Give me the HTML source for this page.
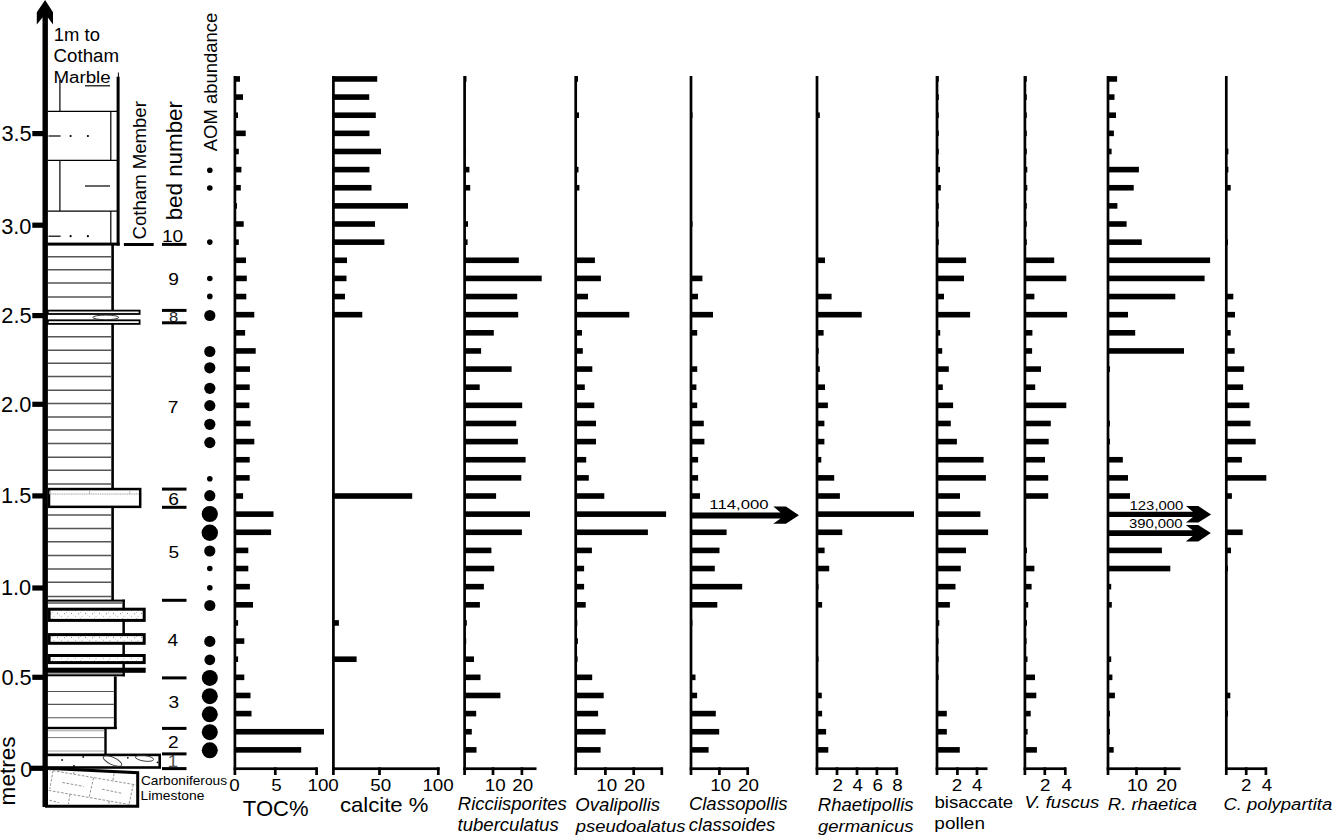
<!DOCTYPE html>
<html><head><meta charset="utf-8"><style>
html,body{margin:0;padding:0;background:#fff;}
body{width:1333px;height:836px;overflow:hidden;}
svg{display:block;font-family:"Liberation Sans", sans-serif;}
</style></head><body>
<svg width="1333" height="836" viewBox="0 0 1333 836">
<defs><pattern id="stip" width="14" height="6" patternUnits="userSpaceOnUse"><rect width="14" height="6" fill="#fff"/><circle cx="1.5" cy="1.2" r="0.5" fill="#555"/><circle cx="5.5" cy="4.3" r="0.45" fill="#666"/><circle cx="8.7" cy="1.8" r="0.5" fill="#555"/><circle cx="12" cy="4.8" r="0.45" fill="#666"/><circle cx="10.5" cy="0.3" r="0.4" fill="#777"/><circle cx="3.6" cy="3" r="0.35" fill="#888"/></pattern></defs>
<rect x="0" y="0" width="1333" height="836" fill="#fff"/>
<rect x="233.55" y="76.00" width="2.70" height="699.00" fill="#000" />
<rect x="233.55" y="767.35" width="83.85" height="2.70" fill="#000" />
<rect x="273.95" y="767.35" width="2.70" height="7.65" fill="#000" />
<rect x="315.25" y="767.35" width="2.70" height="7.65" fill="#000" />
<rect x="234.90" y="76.15" width="5.10" height="5.60" fill="#000" />
<rect x="234.90" y="94.28" width="8.10" height="5.60" fill="#000" />
<rect x="234.90" y="112.42" width="3.10" height="5.60" fill="#000" />
<rect x="234.90" y="130.55" width="10.80" height="5.60" fill="#000" />
<rect x="234.90" y="148.68" width="3.90" height="5.60" fill="#000" />
<rect x="234.90" y="166.81" width="6.50" height="5.60" fill="#000" />
<rect x="234.90" y="184.95" width="5.90" height="5.60" fill="#000" />
<rect x="234.90" y="203.08" width="2.10" height="5.60" fill="#000" />
<rect x="234.90" y="221.21" width="8.80" height="5.60" fill="#000" />
<rect x="234.90" y="239.35" width="3.90" height="5.60" fill="#000" />
<rect x="234.90" y="257.48" width="11.10" height="5.60" fill="#000" />
<rect x="234.90" y="275.61" width="11.90" height="5.60" fill="#000" />
<rect x="234.90" y="293.75" width="11.40" height="5.60" fill="#000" />
<rect x="234.90" y="311.88" width="19.40" height="5.60" fill="#000" />
<rect x="234.90" y="330.01" width="10.20" height="5.60" fill="#000" />
<rect x="234.90" y="348.14" width="20.80" height="5.60" fill="#000" />
<rect x="234.90" y="366.28" width="15.10" height="5.60" fill="#000" />
<rect x="234.90" y="384.41" width="14.80" height="5.60" fill="#000" />
<rect x="234.90" y="402.54" width="14.50" height="5.60" fill="#000" />
<rect x="234.90" y="420.68" width="15.70" height="5.60" fill="#000" />
<rect x="234.90" y="438.81" width="19.40" height="5.60" fill="#000" />
<rect x="234.90" y="456.94" width="14.80" height="5.60" fill="#000" />
<rect x="234.90" y="475.08" width="14.80" height="5.60" fill="#000" />
<rect x="234.90" y="493.21" width="8.20" height="5.60" fill="#000" />
<rect x="234.90" y="511.34" width="38.60" height="5.60" fill="#000" />
<rect x="234.90" y="529.48" width="36.20" height="5.60" fill="#000" />
<rect x="234.90" y="547.61" width="13.40" height="5.60" fill="#000" />
<rect x="234.90" y="565.74" width="13.40" height="5.60" fill="#000" />
<rect x="234.90" y="583.87" width="15.00" height="5.60" fill="#000" />
<rect x="234.90" y="602.01" width="18.10" height="5.60" fill="#000" />
<rect x="234.90" y="620.14" width="3.20" height="5.60" fill="#000" />
<rect x="234.90" y="638.27" width="9.40" height="5.60" fill="#000" />
<rect x="234.90" y="656.41" width="3.20" height="5.60" fill="#000" />
<rect x="234.90" y="674.54" width="9.40" height="5.60" fill="#000" />
<rect x="234.90" y="692.67" width="15.60" height="5.60" fill="#000" />
<rect x="234.90" y="710.81" width="16.60" height="5.60" fill="#000" />
<rect x="234.90" y="728.94" width="89.10" height="5.60" fill="#000" />
<rect x="234.90" y="747.07" width="66.30" height="5.60" fill="#000" />
<rect x="332.05" y="76.00" width="2.70" height="699.00" fill="#000" />
<rect x="332.05" y="767.35" width="107.55" height="2.70" fill="#000" />
<rect x="378.15" y="767.35" width="2.70" height="7.65" fill="#000" />
<rect x="436.95" y="767.35" width="2.70" height="7.65" fill="#000" />
<rect x="333.40" y="76.15" width="43.80" height="5.60" fill="#000" />
<rect x="333.40" y="94.28" width="35.80" height="5.60" fill="#000" />
<rect x="333.40" y="112.42" width="42.40" height="5.60" fill="#000" />
<rect x="333.40" y="130.55" width="36.10" height="5.60" fill="#000" />
<rect x="333.40" y="148.68" width="47.60" height="5.60" fill="#000" />
<rect x="333.40" y="166.81" width="36.10" height="5.60" fill="#000" />
<rect x="333.40" y="184.95" width="38.10" height="5.60" fill="#000" />
<rect x="333.40" y="203.08" width="74.60" height="5.60" fill="#000" />
<rect x="333.40" y="221.21" width="41.60" height="5.60" fill="#000" />
<rect x="333.40" y="239.35" width="51.00" height="5.60" fill="#000" />
<rect x="333.40" y="257.48" width="13.60" height="5.60" fill="#000" />
<rect x="333.40" y="275.61" width="13.10" height="5.60" fill="#000" />
<rect x="333.40" y="293.75" width="11.60" height="5.60" fill="#000" />
<rect x="333.40" y="311.88" width="28.90" height="5.60" fill="#000" />
<rect x="333.40" y="493.21" width="78.80" height="5.60" fill="#000" />
<rect x="333.40" y="620.14" width="5.50" height="5.60" fill="#000" />
<rect x="333.40" y="656.41" width="23.20" height="5.60" fill="#000" />
<rect x="463.25" y="76.00" width="2.70" height="699.00" fill="#000" />
<rect x="463.25" y="767.35" width="73.25" height="2.70" fill="#000" />
<rect x="491.65" y="767.35" width="2.70" height="7.65" fill="#000" />
<rect x="520.55" y="767.35" width="2.70" height="7.65" fill="#000" />
<rect x="464.60" y="76.15" width="1.90" height="5.60" fill="#000" />
<rect x="464.60" y="148.68" width="1.40" height="5.60" fill="#000" />
<rect x="464.60" y="166.81" width="4.80" height="5.60" fill="#000" />
<rect x="464.60" y="184.95" width="5.60" height="5.60" fill="#000" />
<rect x="464.60" y="221.21" width="3.40" height="5.60" fill="#000" />
<rect x="464.60" y="239.35" width="3.00" height="5.60" fill="#000" />
<rect x="464.60" y="257.48" width="54.20" height="5.60" fill="#000" />
<rect x="464.60" y="275.61" width="77.10" height="5.60" fill="#000" />
<rect x="464.60" y="293.75" width="52.60" height="5.60" fill="#000" />
<rect x="464.60" y="311.88" width="53.60" height="5.60" fill="#000" />
<rect x="464.60" y="330.01" width="29.20" height="5.60" fill="#000" />
<rect x="464.60" y="348.14" width="16.50" height="5.60" fill="#000" />
<rect x="464.60" y="366.28" width="47.00" height="5.60" fill="#000" />
<rect x="464.60" y="384.41" width="15.10" height="5.60" fill="#000" />
<rect x="464.60" y="402.54" width="57.60" height="5.60" fill="#000" />
<rect x="464.60" y="420.68" width="51.60" height="5.60" fill="#000" />
<rect x="464.60" y="438.81" width="53.30" height="5.60" fill="#000" />
<rect x="464.60" y="456.94" width="61.00" height="5.60" fill="#000" />
<rect x="464.60" y="475.08" width="56.70" height="5.60" fill="#000" />
<rect x="464.60" y="493.21" width="31.50" height="5.60" fill="#000" />
<rect x="464.60" y="511.34" width="65.40" height="5.60" fill="#000" />
<rect x="464.60" y="529.48" width="57.30" height="5.60" fill="#000" />
<rect x="464.60" y="547.61" width="26.80" height="5.60" fill="#000" />
<rect x="464.60" y="565.74" width="29.60" height="5.60" fill="#000" />
<rect x="464.60" y="583.87" width="19.30" height="5.60" fill="#000" />
<rect x="464.60" y="602.01" width="15.30" height="5.60" fill="#000" />
<rect x="464.60" y="620.14" width="2.20" height="5.60" fill="#000" />
<rect x="464.60" y="638.27" width="1.60" height="5.60" fill="#000" />
<rect x="464.60" y="656.41" width="9.40" height="5.60" fill="#000" />
<rect x="464.60" y="674.54" width="15.90" height="5.60" fill="#000" />
<rect x="464.60" y="692.67" width="35.80" height="5.60" fill="#000" />
<rect x="464.60" y="710.81" width="11.60" height="5.60" fill="#000" />
<rect x="464.60" y="728.94" width="7.20" height="5.60" fill="#000" />
<rect x="464.60" y="747.07" width="11.90" height="5.60" fill="#000" />
<rect x="574.35" y="76.00" width="2.70" height="699.00" fill="#000" />
<rect x="574.35" y="767.35" width="88.15" height="2.70" fill="#000" />
<rect x="604.05" y="767.35" width="2.70" height="7.65" fill="#000" />
<rect x="632.35" y="767.35" width="2.70" height="7.65" fill="#000" />
<rect x="660.45" y="767.35" width="2.70" height="7.65" fill="#000" />
<rect x="575.70" y="76.15" width="2.30" height="5.60" fill="#000" />
<rect x="575.70" y="112.42" width="3.30" height="5.60" fill="#000" />
<rect x="575.70" y="166.81" width="2.80" height="5.60" fill="#000" />
<rect x="575.70" y="184.95" width="3.70" height="5.60" fill="#000" />
<rect x="575.70" y="257.48" width="19.20" height="5.60" fill="#000" />
<rect x="575.70" y="275.61" width="25.20" height="5.60" fill="#000" />
<rect x="575.70" y="293.75" width="12.30" height="5.60" fill="#000" />
<rect x="575.70" y="311.88" width="53.60" height="5.60" fill="#000" />
<rect x="575.70" y="330.01" width="6.30" height="5.60" fill="#000" />
<rect x="575.70" y="348.14" width="7.10" height="5.60" fill="#000" />
<rect x="575.70" y="366.28" width="16.60" height="5.60" fill="#000" />
<rect x="575.70" y="384.41" width="9.10" height="5.60" fill="#000" />
<rect x="575.70" y="402.54" width="18.60" height="5.60" fill="#000" />
<rect x="575.70" y="420.68" width="20.30" height="5.60" fill="#000" />
<rect x="575.70" y="438.81" width="20.30" height="5.60" fill="#000" />
<rect x="575.70" y="456.94" width="10.50" height="5.60" fill="#000" />
<rect x="575.70" y="475.08" width="13.10" height="5.60" fill="#000" />
<rect x="575.70" y="493.21" width="28.60" height="5.60" fill="#000" />
<rect x="575.70" y="511.34" width="90.40" height="5.60" fill="#000" />
<rect x="575.70" y="529.48" width="72.20" height="5.60" fill="#000" />
<rect x="575.70" y="547.61" width="16.20" height="5.60" fill="#000" />
<rect x="575.70" y="565.74" width="8.40" height="5.60" fill="#000" />
<rect x="575.70" y="583.87" width="8.40" height="5.60" fill="#000" />
<rect x="575.70" y="602.01" width="10.00" height="5.60" fill="#000" />
<rect x="575.70" y="620.14" width="1.60" height="5.60" fill="#000" />
<rect x="575.70" y="638.27" width="2.20" height="5.60" fill="#000" />
<rect x="575.70" y="656.41" width="1.90" height="5.60" fill="#000" />
<rect x="575.70" y="674.54" width="16.50" height="5.60" fill="#000" />
<rect x="575.70" y="692.67" width="28.00" height="5.60" fill="#000" />
<rect x="575.70" y="710.81" width="22.40" height="5.60" fill="#000" />
<rect x="575.70" y="728.94" width="29.90" height="5.60" fill="#000" />
<rect x="575.70" y="747.07" width="24.90" height="5.60" fill="#000" />
<rect x="689.65" y="76.00" width="2.70" height="699.00" fill="#000" />
<rect x="689.65" y="767.35" width="58.85" height="2.70" fill="#000" />
<rect x="718.05" y="767.35" width="2.70" height="7.65" fill="#000" />
<rect x="746.35" y="767.35" width="2.70" height="7.65" fill="#000" />
<rect x="691.00" y="112.42" width="1.50" height="5.60" fill="#000" />
<rect x="691.00" y="221.21" width="1.50" height="5.60" fill="#000" />
<rect x="691.00" y="275.61" width="11.40" height="5.60" fill="#000" />
<rect x="691.00" y="293.75" width="7.00" height="5.60" fill="#000" />
<rect x="691.00" y="311.88" width="22.00" height="5.60" fill="#000" />
<rect x="691.00" y="330.01" width="6.20" height="5.60" fill="#000" />
<rect x="691.00" y="366.28" width="6.20" height="5.60" fill="#000" />
<rect x="691.00" y="384.41" width="5.40" height="5.60" fill="#000" />
<rect x="691.00" y="402.54" width="6.20" height="5.60" fill="#000" />
<rect x="691.00" y="420.68" width="12.80" height="5.60" fill="#000" />
<rect x="691.00" y="438.81" width="13.40" height="5.60" fill="#000" />
<rect x="691.00" y="456.94" width="7.10" height="5.60" fill="#000" />
<rect x="691.00" y="475.08" width="7.10" height="5.60" fill="#000" />
<rect x="691.00" y="493.21" width="9.00" height="5.60" fill="#000" />
<rect x="691.00" y="529.48" width="35.60" height="5.60" fill="#000" />
<rect x="691.00" y="547.61" width="28.50" height="5.60" fill="#000" />
<rect x="691.00" y="565.74" width="23.80" height="5.60" fill="#000" />
<rect x="691.00" y="583.87" width="51.20" height="5.60" fill="#000" />
<rect x="691.00" y="602.01" width="26.30" height="5.60" fill="#000" />
<rect x="691.00" y="620.14" width="1.40" height="5.60" fill="#000" />
<rect x="691.00" y="674.54" width="4.50" height="5.60" fill="#000" />
<rect x="691.00" y="692.67" width="6.10" height="5.60" fill="#000" />
<rect x="691.00" y="710.81" width="24.80" height="5.60" fill="#000" />
<rect x="691.00" y="728.94" width="28.20" height="5.60" fill="#000" />
<rect x="691.00" y="747.07" width="17.60" height="5.60" fill="#000" />
<rect x="815.65" y="76.00" width="2.70" height="699.00" fill="#000" />
<rect x="815.65" y="767.35" width="81.85" height="2.70" fill="#000" />
<rect x="835.65" y="767.35" width="2.70" height="7.65" fill="#000" />
<rect x="855.65" y="767.35" width="2.70" height="7.65" fill="#000" />
<rect x="875.55" y="767.35" width="2.70" height="7.65" fill="#000" />
<rect x="895.45" y="767.35" width="2.70" height="7.65" fill="#000" />
<rect x="817.00" y="112.42" width="2.80" height="5.60" fill="#000" />
<rect x="817.00" y="257.48" width="8.00" height="5.60" fill="#000" />
<rect x="817.00" y="293.75" width="14.60" height="5.60" fill="#000" />
<rect x="817.00" y="311.88" width="44.70" height="5.60" fill="#000" />
<rect x="817.00" y="330.01" width="6.60" height="5.60" fill="#000" />
<rect x="817.00" y="348.14" width="1.70" height="5.60" fill="#000" />
<rect x="817.00" y="366.28" width="2.80" height="5.60" fill="#000" />
<rect x="817.00" y="384.41" width="8.00" height="5.60" fill="#000" />
<rect x="817.00" y="402.54" width="10.90" height="5.60" fill="#000" />
<rect x="817.00" y="420.68" width="7.40" height="5.60" fill="#000" />
<rect x="817.00" y="438.81" width="7.40" height="5.60" fill="#000" />
<rect x="817.00" y="456.94" width="4.30" height="5.60" fill="#000" />
<rect x="817.00" y="475.08" width="17.20" height="5.60" fill="#000" />
<rect x="817.00" y="493.21" width="22.90" height="5.60" fill="#000" />
<rect x="817.00" y="511.34" width="97.00" height="5.60" fill="#000" />
<rect x="817.00" y="529.48" width="25.30" height="5.60" fill="#000" />
<rect x="817.00" y="547.61" width="7.60" height="5.60" fill="#000" />
<rect x="817.00" y="565.74" width="12.20" height="5.60" fill="#000" />
<rect x="817.00" y="583.87" width="1.50" height="5.60" fill="#000" />
<rect x="817.00" y="602.01" width="5.10" height="5.60" fill="#000" />
<rect x="817.00" y="656.41" width="1.50" height="5.60" fill="#000" />
<rect x="817.00" y="692.67" width="4.80" height="5.60" fill="#000" />
<rect x="817.00" y="710.81" width="5.10" height="5.60" fill="#000" />
<rect x="817.00" y="728.94" width="9.10" height="5.60" fill="#000" />
<rect x="817.00" y="747.07" width="11.30" height="5.60" fill="#000" />
<rect x="935.65" y="76.00" width="2.70" height="699.00" fill="#000" />
<rect x="935.65" y="767.35" width="51.85" height="2.70" fill="#000" />
<rect x="956.05" y="767.35" width="2.70" height="7.65" fill="#000" />
<rect x="975.65" y="767.35" width="2.70" height="7.65" fill="#000" />
<rect x="937.00" y="76.15" width="1.80" height="5.60" fill="#000" />
<rect x="937.00" y="94.28" width="1.80" height="5.60" fill="#000" />
<rect x="937.00" y="112.42" width="1.80" height="5.60" fill="#000" />
<rect x="937.00" y="130.55" width="1.80" height="5.60" fill="#000" />
<rect x="937.00" y="148.68" width="1.80" height="5.60" fill="#000" />
<rect x="937.00" y="166.81" width="3.00" height="5.60" fill="#000" />
<rect x="937.00" y="184.95" width="3.80" height="5.60" fill="#000" />
<rect x="937.00" y="203.08" width="1.80" height="5.60" fill="#000" />
<rect x="937.00" y="221.21" width="1.80" height="5.60" fill="#000" />
<rect x="937.00" y="239.35" width="1.80" height="5.60" fill="#000" />
<rect x="937.00" y="257.48" width="29.10" height="5.60" fill="#000" />
<rect x="937.00" y="275.61" width="27.00" height="5.60" fill="#000" />
<rect x="937.00" y="293.75" width="7.00" height="5.60" fill="#000" />
<rect x="937.00" y="311.88" width="33.10" height="5.60" fill="#000" />
<rect x="937.00" y="330.01" width="3.20" height="5.60" fill="#000" />
<rect x="937.00" y="348.14" width="5.20" height="5.60" fill="#000" />
<rect x="937.00" y="366.28" width="11.80" height="5.60" fill="#000" />
<rect x="937.00" y="384.41" width="5.80" height="5.60" fill="#000" />
<rect x="937.00" y="402.54" width="16.10" height="5.60" fill="#000" />
<rect x="937.00" y="420.68" width="13.80" height="5.60" fill="#000" />
<rect x="937.00" y="438.81" width="19.90" height="5.60" fill="#000" />
<rect x="937.00" y="456.94" width="46.60" height="5.60" fill="#000" />
<rect x="937.00" y="475.08" width="48.90" height="5.60" fill="#000" />
<rect x="937.00" y="493.21" width="23.00" height="5.60" fill="#000" />
<rect x="937.00" y="511.34" width="43.40" height="5.60" fill="#000" />
<rect x="937.00" y="529.48" width="51.10" height="5.60" fill="#000" />
<rect x="937.00" y="547.61" width="29.00" height="5.60" fill="#000" />
<rect x="937.00" y="565.74" width="23.80" height="5.60" fill="#000" />
<rect x="937.00" y="583.87" width="18.50" height="5.60" fill="#000" />
<rect x="937.00" y="602.01" width="12.90" height="5.60" fill="#000" />
<rect x="937.00" y="620.14" width="2.30" height="5.60" fill="#000" />
<rect x="937.00" y="638.27" width="1.60" height="5.60" fill="#000" />
<rect x="937.00" y="656.41" width="1.60" height="5.60" fill="#000" />
<rect x="937.00" y="674.54" width="1.60" height="5.60" fill="#000" />
<rect x="937.00" y="710.81" width="9.80" height="5.60" fill="#000" />
<rect x="937.00" y="728.94" width="9.80" height="5.60" fill="#000" />
<rect x="937.00" y="747.07" width="22.80" height="5.60" fill="#000" />
<rect x="1023.55" y="76.00" width="2.70" height="699.00" fill="#000" />
<rect x="1023.55" y="767.35" width="42.45" height="2.70" fill="#000" />
<rect x="1043.45" y="767.35" width="2.70" height="7.65" fill="#000" />
<rect x="1063.95" y="767.35" width="2.70" height="7.65" fill="#000" />
<rect x="1024.90" y="76.15" width="1.90" height="5.60" fill="#000" />
<rect x="1024.90" y="94.28" width="1.90" height="5.60" fill="#000" />
<rect x="1024.90" y="112.42" width="1.90" height="5.60" fill="#000" />
<rect x="1024.90" y="130.55" width="1.90" height="5.60" fill="#000" />
<rect x="1024.90" y="148.68" width="1.90" height="5.60" fill="#000" />
<rect x="1024.90" y="166.81" width="2.40" height="5.60" fill="#000" />
<rect x="1024.90" y="184.95" width="2.40" height="5.60" fill="#000" />
<rect x="1024.90" y="203.08" width="1.90" height="5.60" fill="#000" />
<rect x="1024.90" y="221.21" width="1.90" height="5.60" fill="#000" />
<rect x="1024.90" y="239.35" width="1.90" height="5.60" fill="#000" />
<rect x="1024.90" y="257.48" width="29.30" height="5.60" fill="#000" />
<rect x="1024.90" y="275.61" width="41.40" height="5.60" fill="#000" />
<rect x="1024.90" y="293.75" width="9.50" height="5.60" fill="#000" />
<rect x="1024.90" y="311.88" width="42.20" height="5.60" fill="#000" />
<rect x="1024.90" y="330.01" width="7.50" height="5.60" fill="#000" />
<rect x="1024.90" y="348.14" width="7.20" height="5.60" fill="#000" />
<rect x="1024.90" y="366.28" width="16.10" height="5.60" fill="#000" />
<rect x="1024.90" y="384.41" width="10.30" height="5.60" fill="#000" />
<rect x="1024.90" y="402.54" width="41.40" height="5.60" fill="#000" />
<rect x="1024.90" y="420.68" width="25.90" height="5.60" fill="#000" />
<rect x="1024.90" y="438.81" width="23.80" height="5.60" fill="#000" />
<rect x="1024.90" y="456.94" width="20.10" height="5.60" fill="#000" />
<rect x="1024.90" y="475.08" width="23.30" height="5.60" fill="#000" />
<rect x="1024.90" y="493.21" width="23.30" height="5.60" fill="#000" />
<rect x="1024.90" y="547.61" width="2.10" height="5.60" fill="#000" />
<rect x="1024.90" y="565.74" width="9.50" height="5.60" fill="#000" />
<rect x="1024.90" y="583.87" width="6.70" height="5.60" fill="#000" />
<rect x="1024.90" y="602.01" width="3.30" height="5.60" fill="#000" />
<rect x="1024.90" y="620.14" width="2.10" height="5.60" fill="#000" />
<rect x="1024.90" y="638.27" width="1.70" height="5.60" fill="#000" />
<rect x="1024.90" y="656.41" width="2.60" height="5.60" fill="#000" />
<rect x="1024.90" y="674.54" width="10.10" height="5.60" fill="#000" />
<rect x="1024.90" y="692.67" width="11.40" height="5.60" fill="#000" />
<rect x="1024.90" y="710.81" width="5.80" height="5.60" fill="#000" />
<rect x="1024.90" y="728.94" width="2.70" height="5.60" fill="#000" />
<rect x="1024.90" y="747.07" width="12.00" height="5.60" fill="#000" />
<rect x="1106.65" y="76.00" width="2.70" height="699.00" fill="#000" />
<rect x="1106.65" y="767.35" width="73.95" height="2.70" fill="#000" />
<rect x="1135.15" y="767.35" width="2.70" height="7.65" fill="#000" />
<rect x="1163.75" y="767.35" width="2.70" height="7.65" fill="#000" />
<rect x="1108.00" y="76.15" width="9.10" height="5.60" fill="#000" />
<rect x="1108.00" y="94.28" width="6.50" height="5.60" fill="#000" />
<rect x="1108.00" y="112.42" width="8.00" height="5.60" fill="#000" />
<rect x="1108.00" y="130.55" width="5.90" height="5.60" fill="#000" />
<rect x="1108.00" y="148.68" width="3.60" height="5.60" fill="#000" />
<rect x="1108.00" y="166.81" width="30.90" height="5.60" fill="#000" />
<rect x="1108.00" y="184.95" width="25.70" height="5.60" fill="#000" />
<rect x="1108.00" y="203.08" width="9.40" height="5.60" fill="#000" />
<rect x="1108.00" y="221.21" width="18.60" height="5.60" fill="#000" />
<rect x="1108.00" y="239.35" width="33.80" height="5.60" fill="#000" />
<rect x="1108.00" y="257.48" width="102.10" height="5.60" fill="#000" />
<rect x="1108.00" y="275.61" width="96.60" height="5.60" fill="#000" />
<rect x="1108.00" y="293.75" width="67.30" height="5.60" fill="#000" />
<rect x="1108.00" y="311.88" width="20.00" height="5.60" fill="#000" />
<rect x="1108.00" y="330.01" width="27.20" height="5.60" fill="#000" />
<rect x="1108.00" y="348.14" width="76.00" height="5.60" fill="#000" />
<rect x="1108.00" y="366.28" width="2.00" height="5.60" fill="#000" />
<rect x="1108.00" y="420.68" width="2.00" height="5.60" fill="#000" />
<rect x="1108.00" y="438.81" width="2.00" height="5.60" fill="#000" />
<rect x="1108.00" y="456.94" width="14.80" height="5.60" fill="#000" />
<rect x="1108.00" y="475.08" width="20.00" height="5.60" fill="#000" />
<rect x="1108.00" y="493.21" width="22.00" height="5.60" fill="#000" />
<rect x="1108.00" y="547.61" width="53.90" height="5.60" fill="#000" />
<rect x="1108.00" y="565.74" width="62.30" height="5.60" fill="#000" />
<rect x="1108.00" y="583.87" width="3.20" height="5.60" fill="#000" />
<rect x="1108.00" y="602.01" width="3.80" height="5.60" fill="#000" />
<rect x="1108.00" y="656.41" width="3.20" height="5.60" fill="#000" />
<rect x="1108.00" y="674.54" width="4.40" height="5.60" fill="#000" />
<rect x="1108.00" y="692.67" width="6.90" height="5.60" fill="#000" />
<rect x="1108.00" y="710.81" width="2.00" height="5.60" fill="#000" />
<rect x="1108.00" y="728.94" width="2.00" height="5.60" fill="#000" />
<rect x="1108.00" y="747.07" width="5.70" height="5.60" fill="#000" />
<rect x="1224.95" y="76.00" width="2.70" height="699.00" fill="#000" />
<rect x="1224.95" y="767.35" width="41.65" height="2.70" fill="#000" />
<rect x="1244.85" y="767.35" width="2.70" height="7.65" fill="#000" />
<rect x="1264.55" y="767.35" width="2.70" height="7.65" fill="#000" />
<rect x="1226.30" y="148.68" width="2.10" height="5.60" fill="#000" />
<rect x="1226.30" y="166.81" width="2.10" height="5.60" fill="#000" />
<rect x="1226.30" y="184.95" width="4.40" height="5.60" fill="#000" />
<rect x="1226.30" y="239.35" width="1.70" height="5.60" fill="#000" />
<rect x="1226.30" y="293.75" width="7.00" height="5.60" fill="#000" />
<rect x="1226.30" y="311.88" width="8.70" height="5.60" fill="#000" />
<rect x="1226.30" y="330.01" width="4.40" height="5.60" fill="#000" />
<rect x="1226.30" y="348.14" width="8.40" height="5.60" fill="#000" />
<rect x="1226.30" y="366.28" width="17.90" height="5.60" fill="#000" />
<rect x="1226.30" y="384.41" width="16.80" height="5.60" fill="#000" />
<rect x="1226.30" y="402.54" width="23.10" height="5.60" fill="#000" />
<rect x="1226.30" y="420.68" width="24.20" height="5.60" fill="#000" />
<rect x="1226.30" y="438.81" width="29.40" height="5.60" fill="#000" />
<rect x="1226.30" y="456.94" width="15.60" height="5.60" fill="#000" />
<rect x="1226.30" y="475.08" width="40.00" height="5.60" fill="#000" />
<rect x="1226.30" y="493.21" width="5.60" height="5.60" fill="#000" />
<rect x="1226.30" y="529.48" width="16.40" height="5.60" fill="#000" />
<rect x="1226.30" y="547.61" width="4.70" height="5.60" fill="#000" />
<rect x="1226.30" y="565.74" width="1.70" height="5.60" fill="#000" />
<rect x="1226.30" y="692.67" width="4.00" height="5.60" fill="#000" />
<rect x="1226.30" y="710.81" width="1.70" height="5.60" fill="#000" />
<polygon points="691.00,512.50 780.50,512.50 773.30,506.50 785.90,506.50 798.90,515.20 785.90,523.80 773.30,523.80 780.50,518.60 691.00,518.60" fill="#000"/>
<polygon points="1108.00,511.70 1192.90,511.70 1186.00,506.10 1198.30,506.10 1211.10,514.40 1198.30,522.60 1186.00,522.60 1192.90,517.10 1108.00,517.10" fill="#000"/>
<polygon points="1108.00,530.30 1192.60,530.30 1185.80,524.90 1198.30,524.90 1210.80,533.00 1198.30,541.40 1185.80,541.40 1192.60,536.00 1108.00,536.00" fill="#000"/>
<text transform="translate(53.82,41.32) scale(1.0247,1)" font-size="18.00" fill="#000">1m to</text>
<text transform="translate(53.57,62.12) scale(1.0644,1)" font-size="17.57" fill="#000">Cotham</text>
<text transform="translate(53.40,82.83) scale(1.1004,1)" font-size="17.03" fill="#000">Marble</text>
<text transform="translate(1.38,140.57) scale(1.0150,1)" font-size="21.50" fill="#000">3.5</text>
<text transform="translate(1.13,233.87) scale(1.0150,1)" font-size="21.50" fill="#000">3.0</text>
<text transform="translate(1.27,323.02) scale(1.0150,1)" font-size="21.50" fill="#000">2.5</text>
<text transform="translate(1.02,411.92) scale(1.0150,1)" font-size="21.50" fill="#000">2.0</text>
<text transform="translate(1.05,502.76) scale(1.0150,1)" font-size="21.50" fill="#000">1.5</text>
<text transform="translate(0.90,595.42) scale(1.0150,1)" font-size="21.50" fill="#000">1.0</text>
<text transform="translate(1.38,684.82) scale(1.0150,1)" font-size="21.50" fill="#000">0.5</text>
<text transform="translate(20.17,776.59) scale(0.9700,1)" font-size="22.00" fill="#000">0</text>
<text transform="translate(161.89,241.70) scale(1.1000,1)" font-size="17.40" fill="#000">10</text>
<text transform="translate(168.19,284.95) scale(1.1000,1)" font-size="17.40" fill="#000">9</text>
<text transform="translate(169.06,322.18) scale(1.1000,1)" font-size="15.00" fill="#222">8</text>
<text transform="translate(167.74,412.59) scale(1.1000,1)" font-size="17.40" fill="#000">7</text>
<text transform="translate(168.24,504.70) scale(1.1000,1)" font-size="17.40" fill="#000">6</text>
<text transform="translate(168.54,557.52) scale(1.1000,1)" font-size="17.40" fill="#000">5</text>
<text transform="translate(167.49,645.79) scale(1.1000,1)" font-size="17.40" fill="#000">4</text>
<text transform="translate(168.39,708.10) scale(1.1000,1)" font-size="17.40" fill="#000">3</text>
<text transform="translate(168.09,748.24) scale(1.1000,1)" font-size="17.40" fill="#000">2</text>
<text transform="translate(167.60,767.35) scale(1.1000,1)" font-size="17.40" fill="#555">1</text>
<text transform="translate(229.24,790.85) scale(1.0800,1)" font-size="17.40" fill="#000">0</text>
<text transform="translate(271.23,790.77) scale(1.0800,1)" font-size="17.40" fill="#000">5</text>
<text transform="translate(307.48,790.85) scale(1.0800,1)" font-size="17.40" fill="#000">100</text>
<text transform="translate(370.27,790.85) scale(1.0800,1)" font-size="17.40" fill="#000">50</text>
<text transform="translate(422.43,790.85) scale(1.0800,1)" font-size="17.40" fill="#000">100</text>
<text transform="translate(484.69,791.45) scale(1.0800,1)" font-size="17.40" fill="#000">10</text>
<text transform="translate(512.28,791.45) scale(1.0800,1)" font-size="17.40" fill="#000">20</text>
<text transform="translate(596.19,791.00) scale(1.0800,1)" font-size="17.40" fill="#000">10</text>
<text transform="translate(624.08,791.00) scale(1.0800,1)" font-size="17.40" fill="#000">20</text>
<text transform="translate(710.14,790.60) scale(1.0800,1)" font-size="17.40" fill="#000">10</text>
<text transform="translate(738.03,790.60) scale(1.0800,1)" font-size="17.40" fill="#000">20</text>
<text transform="translate(832.59,791.39) scale(1.0800,1)" font-size="17.40" fill="#000">2</text>
<text transform="translate(852.38,791.39) scale(1.0800,1)" font-size="17.40" fill="#000">4</text>
<text transform="translate(872.59,791.30) scale(1.0800,1)" font-size="17.40" fill="#000">6</text>
<text transform="translate(892.33,791.30) scale(1.0800,1)" font-size="17.40" fill="#000">8</text>
<text transform="translate(951.84,791.09) scale(1.0800,1)" font-size="17.40" fill="#000">2</text>
<text transform="translate(971.98,791.09) scale(1.0800,1)" font-size="17.40" fill="#000">4</text>
<text transform="translate(1040.09,791.09) scale(1.0800,1)" font-size="17.40" fill="#000">2</text>
<text transform="translate(1061.48,791.09) scale(1.0800,1)" font-size="17.40" fill="#000">4</text>
<text transform="translate(1126.89,791.00) scale(1.0800,1)" font-size="17.40" fill="#000">10</text>
<text transform="translate(1156.08,791.00) scale(1.0800,1)" font-size="17.40" fill="#000">20</text>
<text transform="translate(1241.04,790.89) scale(1.0800,1)" font-size="17.40" fill="#000">2</text>
<text transform="translate(1261.68,790.89) scale(1.0800,1)" font-size="17.40" fill="#000">4</text>
<text transform="translate(242.86,816.07) scale(0.9708,1)" font-size="22.68" fill="#000">TOC%</text>
<text transform="translate(339.91,812.29) scale(1.0707,1)" font-size="20.68" fill="#000">calcite %</text>
<text transform="translate(457.84,810.15) scale(1.0367,1)" font-size="17.87" font-style="italic" fill="#000">Ricciisporites</text>
<text transform="translate(457.47,831.12) scale(1.0509,1)" font-size="17.70" font-style="italic" fill="#000">tuberculatus</text>
<text transform="translate(575.37,810.89) scale(1.0529,1)" font-size="17.66" font-style="italic" fill="#000">Ovalipollis</text>
<text transform="translate(575.77,831.79) scale(1.1049,1)" font-size="16.70" font-style="italic" fill="#000">pseudoalatus</text>
<text transform="translate(688.89,810.19) scale(1.0484,1)" font-size="17.66" font-style="italic" fill="#000">Classopollis</text>
<text transform="translate(688.74,831.32) scale(1.0321,1)" font-size="17.97" font-style="italic" fill="#000">classoides</text>
<text transform="translate(817.74,810.89) scale(1.0507,1)" font-size="17.66" font-style="italic" fill="#000">Rhaetipollis</text>
<text transform="translate(817.90,831.68) scale(1.0749,1)" font-size="17.23" font-style="italic" fill="#000">germanicus</text>
<text transform="translate(934.39,808.03) scale(1.0789,1)" font-size="17.30" fill="#000">bisaccate</text>
<text transform="translate(934.37,829.35) scale(1.1216,1)" font-size="16.91" fill="#000">pollen</text>
<text transform="translate(1024.43,808.04) scale(1.1342,1)" font-size="16.35" font-style="italic" fill="#000">V. fuscus</text>
<text transform="translate(1107.85,809.93) scale(1.0678,1)" font-size="17.30" font-style="italic" fill="#000">R. rhaetica</text>
<text transform="translate(1223.39,809.96) scale(1.0649,1)" font-size="17.34" font-style="italic" fill="#000">C. polypartita</text>
<text transform="translate(140.91,784.86) scale(1.0057,1)" font-size="13.65" fill="#000">Carboniferous</text>
<text transform="translate(140.49,800.26) scale(1.0166,1)" font-size="13.65" fill="#000">Limestone</text>
<text transform="translate(709.36,509.09) scale(1.2736,1)" font-size="13.13" fill="#000">114,000</text>
<text transform="translate(1129.51,509.77) scale(1.1914,1)" font-size="12.53" fill="#000">123,000</text>
<text transform="translate(1128.91,527.92) scale(1.2222,1)" font-size="12.17" fill="#000">390,000</text>
<text transform="translate(15.08,805.38) rotate(-90) scale(1,0.9745)" font-size="22.58" fill="#000">metres</text>
<text transform="translate(145.81,239.43) rotate(-90) scale(1,1.0322)" font-size="18.59" fill="#000">Cotham Member</text>
<text transform="translate(181.67,220.37) rotate(-90) scale(1,1.0265)" font-size="22.38" fill="#000">bed number</text>
<text transform="translate(216.82,151.30) rotate(-90) scale(1,0.9796)" font-size="18.49" fill="#000">AOM abundance</text>
<rect x="42.50" y="17.00" width="5.40" height="790.00" fill="#000" />
<polygon points="45.1,0 53,12.2 53,24.4 47.9,17.6 42.5,17.6 36.8,24.4 36.8,12.2" fill="#000"/>
<rect x="32.30" y="131.00" width="11.00" height="5.20" fill="#000" />
<rect x="32.30" y="222.60" width="11.00" height="5.20" fill="#000" />
<rect x="32.30" y="313.00" width="11.00" height="5.20" fill="#000" />
<rect x="32.30" y="401.70" width="11.00" height="5.20" fill="#000" />
<rect x="32.30" y="493.30" width="11.00" height="5.20" fill="#000" />
<rect x="32.30" y="585.40" width="11.00" height="5.20" fill="#000" />
<rect x="32.30" y="674.70" width="11.00" height="5.20" fill="#000" />
<rect x="29.70" y="765.70" width="14.00" height="5.20" fill="#000" />
<rect x="116.60" y="76.70" width="3.00" height="168.90" fill="#000" />
<line x1="118.40" y1="72.50" x2="118.40" y2="77.00" stroke="#000" stroke-width="1.0" />
<line x1="48.00" y1="111.40" x2="117.00" y2="111.40" stroke="#000" stroke-width="1.3" />
<line x1="59.90" y1="80.00" x2="59.90" y2="111.40" stroke="#000" stroke-width="1.2" />
<line x1="85.00" y1="85.80" x2="110.00" y2="85.80" stroke="#000" stroke-width="1.2" />
<line x1="110.80" y1="111.40" x2="110.80" y2="160.40" stroke="#000" stroke-width="1.2" />
<line x1="48.00" y1="160.40" x2="117.00" y2="160.40" stroke="#000" stroke-width="1.3" />
<line x1="59.90" y1="160.40" x2="59.90" y2="211.10" stroke="#000" stroke-width="1.2" />
<line x1="48.00" y1="211.10" x2="117.00" y2="211.10" stroke="#000" stroke-width="1.3" />
<line x1="110.80" y1="211.10" x2="110.80" y2="244.00" stroke="#000" stroke-width="1.2" />
<line x1="48.50" y1="136.00" x2="60.60" y2="136.00" stroke="#000" stroke-width="1.2" />
<circle cx="70.6" cy="136.0" r="1.1" fill="#000"/>
<circle cx="87.9" cy="136.0" r="1.1" fill="#000"/>
<line x1="48.50" y1="236.20" x2="60.60" y2="236.20" stroke="#000" stroke-width="1.2" />
<circle cx="70.6" cy="236.2" r="1.1" fill="#000"/>
<circle cx="87.9" cy="236.2" r="1.1" fill="#000"/>
<line x1="85.00" y1="186.00" x2="110.00" y2="186.00" stroke="#000" stroke-width="1.2" />
<rect x="47.50" y="242.60" width="72.20" height="3.00" fill="#000" />
<rect x="111.30" y="244.00" width="2.60" height="66.60" fill="#000" />
<rect x="111.30" y="324.00" width="2.60" height="164.50" fill="#000" />
<rect x="111.30" y="508.00" width="2.60" height="92.00" fill="#000" />
<line x1="48.00" y1="256.80" x2="111.30" y2="256.80" stroke="#555" stroke-width="1.5" />
<line x1="48.00" y1="269.70" x2="111.30" y2="269.70" stroke="#555" stroke-width="1.5" />
<line x1="48.00" y1="283.00" x2="111.30" y2="283.00" stroke="#555" stroke-width="1.5" />
<line x1="48.00" y1="297.00" x2="111.30" y2="297.00" stroke="#555" stroke-width="1.5" />
<line x1="48.00" y1="336.80" x2="111.30" y2="336.80" stroke="#555" stroke-width="1.5" />
<line x1="48.00" y1="350.20" x2="111.30" y2="350.20" stroke="#555" stroke-width="1.5" />
<line x1="48.00" y1="363.30" x2="111.30" y2="363.30" stroke="#555" stroke-width="1.5" />
<line x1="48.00" y1="376.60" x2="111.30" y2="376.60" stroke="#555" stroke-width="1.5" />
<line x1="48.00" y1="390.20" x2="111.30" y2="390.20" stroke="#555" stroke-width="1.5" />
<line x1="48.00" y1="403.50" x2="111.30" y2="403.50" stroke="#555" stroke-width="1.5" />
<line x1="48.00" y1="417.00" x2="111.30" y2="417.00" stroke="#555" stroke-width="1.5" />
<line x1="48.00" y1="430.00" x2="111.30" y2="430.00" stroke="#555" stroke-width="1.5" />
<line x1="48.00" y1="443.60" x2="111.30" y2="443.60" stroke="#555" stroke-width="1.5" />
<line x1="48.00" y1="457.30" x2="111.30" y2="457.30" stroke="#555" stroke-width="1.5" />
<line x1="48.00" y1="470.20" x2="111.30" y2="470.20" stroke="#555" stroke-width="1.5" />
<line x1="48.00" y1="483.90" x2="111.30" y2="483.90" stroke="#555" stroke-width="1.5" />
<line x1="48.00" y1="515.00" x2="111.30" y2="515.00" stroke="#555" stroke-width="1.5" />
<line x1="48.00" y1="528.60" x2="111.30" y2="528.60" stroke="#555" stroke-width="1.5" />
<line x1="48.00" y1="541.80" x2="111.30" y2="541.80" stroke="#555" stroke-width="1.5" />
<line x1="48.00" y1="555.50" x2="111.30" y2="555.50" stroke="#555" stroke-width="1.5" />
<line x1="48.00" y1="569.00" x2="111.30" y2="569.00" stroke="#555" stroke-width="1.5" />
<line x1="48.00" y1="582.30" x2="111.30" y2="582.30" stroke="#555" stroke-width="1.5" />
<line x1="48.00" y1="596.40" x2="111.30" y2="596.40" stroke="#555" stroke-width="1.5" />
<rect x="47.8" y="310.59999999999997" width="91.8" height="3.399999999999989" fill="#f6f6f6" stroke="#000" stroke-width="1.8"/>
<rect x="47.8" y="320.29999999999995" width="91.8" height="3.6000000000000343" fill="#f6f6f6" stroke="#000" stroke-width="1.8"/>
<ellipse cx="105.8" cy="317.4" rx="13" ry="2.3" fill="#fff" stroke="#222" stroke-width="0.9"/>
<rect x="49.0" y="489.05" width="91.2" height="17.8" fill="#fff" stroke="#000" stroke-width="2.5"/>
<line x1="49.50" y1="494.00" x2="139.00" y2="494.00" stroke="#999" stroke-width="0.9" stroke-dasharray="1.2,0.6"/>
<line x1="49.50" y1="490.70" x2="49.50" y2="494.00" stroke="#aaa" stroke-width="0.8" />
<line x1="89.50" y1="490.70" x2="89.50" y2="494.00" stroke="#aaa" stroke-width="0.8" />
<line x1="129.80" y1="490.70" x2="129.80" y2="494.00" stroke="#aaa" stroke-width="0.8" />
<rect x="122.40" y="599.60" width="2.50" height="76.70" fill="#000" />
<rect x="47.00" y="599.60" width="77.90" height="2.00" fill="#000" />
<rect x="47.00" y="674.30" width="77.90" height="2.00" fill="#000" />
<line x1="48.00" y1="603.00" x2="122.40" y2="603.00" stroke="#555" stroke-width="1.6" />
<rect x="49.1" y="609.2" width="95.1" height="11.199999999999932" fill="url(#stip)" stroke="#000" stroke-width="3.0"/>
<rect x="49.1" y="634.6" width="95.1" height="8.699999999999932" fill="url(#stip)" stroke="#000" stroke-width="3.0"/>
<rect x="49.1" y="655.5" width="95.1" height="7.100000000000023" fill="url(#stip)" stroke="#000" stroke-width="3.0"/>
<rect x="47.00" y="667.70" width="98.70" height="5.10" fill="#000" />
<line x1="48.00" y1="673.50" x2="122.40" y2="673.50" stroke="#888" stroke-width="0.8" />
<rect x="113.90" y="676.40" width="2.80" height="52.60" fill="#000" />
<line x1="48.00" y1="691.50" x2="113.90" y2="691.50" stroke="#555" stroke-width="1.1" />
<line x1="48.00" y1="704.40" x2="113.90" y2="704.40" stroke="#555" stroke-width="1.1" />
<line x1="48.00" y1="717.70" x2="113.90" y2="717.70" stroke="#555" stroke-width="1.1" />
<rect x="47.00" y="726.80" width="69.70" height="2.40" fill="#000" />
<rect x="104.30" y="729.00" width="2.40" height="25.00" fill="#000" />
<line x1="48.00" y1="730.80" x2="104.30" y2="730.80" stroke="#999" stroke-width="0.9" />
<line x1="48.00" y1="737.60" x2="104.30" y2="737.60" stroke="#777" stroke-width="1.0" />
<line x1="48.00" y1="751.00" x2="104.30" y2="751.00" stroke="#999" stroke-width="0.9" />
<rect x="46.5" y="754.9" width="113.2" height="12.6" fill="#fff" stroke="#000" stroke-width="2.6"/>
<circle cx="62.1" cy="760" r="0.9" fill="#000"/>
<circle cx="83.2" cy="756.9" r="0.9" fill="#000"/>
<circle cx="127.8" cy="757.8" r="0.9" fill="#000"/>
<circle cx="157.5" cy="762.3" r="0.9" fill="#000"/>
<circle cx="74" cy="766" r="0.9" fill="#000"/>
<ellipse cx="112.5" cy="761" rx="10" ry="3.6" transform="rotate(24 112.5 761)" fill="none" stroke="#333" stroke-width="0.9"/>
<ellipse cx="144.5" cy="758.3" rx="9.2" ry="2.8" transform="rotate(8 144.5 758.3)" fill="none" stroke="#333" stroke-width="0.9"/>
<polygon points="46.5,768.3 137.7,772.8 137.7,806.3 46.5,806.3" fill="#fff" stroke="#000" stroke-width="3"/>
<g stroke="#777" stroke-width="0.8" stroke-dasharray="2.6,1.6" fill="none"><path d="M48.7,769.9 L136.1,784.9 M48.7,790.4 L129.8,804.6 M62.4,782.5 L83.7,786.4 M102.2,789.2 L122.7,793.5 M49.5,800.2 L58.9,802.6"/><path d="M53,770.7 L49.8,789.2 M93.6,777.8 L89.2,797.1 M114,773.5 L112.9,781 M133.3,784.5 L129,804.2 M69.9,794.3 L68.4,804.2 M109.3,801 L108.5,804.6 M73.9,771.9 L73.6,773.8"/></g>
<rect x="162.00" y="242.90" width="24.50" height="3.00" fill="#000" />
<rect x="162.00" y="308.90" width="24.50" height="3.00" fill="#000" />
<rect x="162.00" y="321.30" width="24.50" height="3.00" fill="#000" />
<rect x="162.00" y="487.60" width="24.50" height="3.00" fill="#000" />
<rect x="162.00" y="505.80" width="24.50" height="3.00" fill="#000" />
<rect x="162.00" y="598.80" width="24.50" height="3.00" fill="#000" />
<rect x="162.00" y="676.40" width="24.50" height="3.00" fill="#000" />
<rect x="162.00" y="726.90" width="24.50" height="3.00" fill="#000" />
<rect x="162.00" y="752.40" width="24.50" height="3.00" fill="#000" />
<rect x="162.00" y="767.10" width="24.50" height="3.00" fill="#000" />
<rect x="123.90" y="243.00" width="29.80" height="3.00" fill="#000" />
<circle cx="209.8" cy="170.3" r="2.8" fill="#000"/>
<circle cx="209.8" cy="188.0" r="2.8" fill="#000"/>
<circle cx="209.8" cy="242.1" r="2.8" fill="#000"/>
<circle cx="209.8" cy="278.5" r="2.8" fill="#000"/>
<circle cx="209.8" cy="296.4" r="2.8" fill="#000"/>
<circle cx="209.8" cy="315.5" r="5.6" fill="#000"/>
<circle cx="209.8" cy="351.5" r="5.6" fill="#000"/>
<circle cx="209.8" cy="367.8" r="5.6" fill="#000"/>
<circle cx="209.8" cy="388.3" r="5.6" fill="#000"/>
<circle cx="209.8" cy="405.6" r="5.6" fill="#000"/>
<circle cx="209.8" cy="424.3" r="5.6" fill="#000"/>
<circle cx="209.8" cy="442.6" r="5.6" fill="#000"/>
<circle cx="209.8" cy="478.8" r="2.8" fill="#000"/>
<circle cx="209.8" cy="495.7" r="5.6" fill="#000"/>
<circle cx="209.8" cy="514.0" r="8.1" fill="#000"/>
<circle cx="209.8" cy="532.7" r="8.2" fill="#000"/>
<circle cx="209.8" cy="551.0" r="5.6" fill="#000"/>
<circle cx="209.8" cy="568.5" r="2.8" fill="#000"/>
<circle cx="209.8" cy="587.8" r="2.8" fill="#000"/>
<circle cx="209.8" cy="605.5" r="5.6" fill="#000"/>
<circle cx="209.8" cy="641.4" r="5.6" fill="#000"/>
<circle cx="209.8" cy="659.8" r="5.4" fill="#000"/>
<circle cx="209.8" cy="677.9" r="8.0" fill="#000"/>
<circle cx="209.8" cy="696.2" r="8.0" fill="#000"/>
<circle cx="209.8" cy="714.3" r="8.0" fill="#000"/>
<circle cx="209.8" cy="732.2" r="8.0" fill="#000"/>
<circle cx="209.8" cy="750.3" r="8.0" fill="#000"/>
</svg>
</body></html>
